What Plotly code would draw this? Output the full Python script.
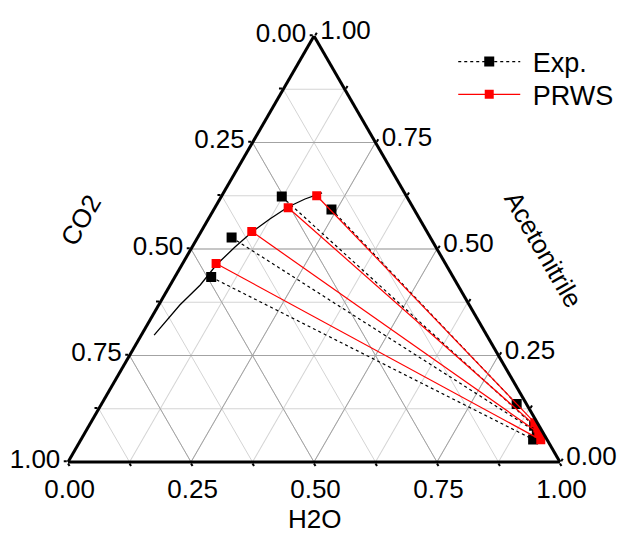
import plotly.graph_objects as go

# Ternary components: a = Acetonitrile (top), b = CO2 (bottom-left), c = H2O (bottom-right)
# Experimental tie-lines: CO2-rich phase (left) and water-rich phase (right)
exp_left_acn = [0.623, 0.593, 0.527, 0.434]
exp_left_co2 = [0.254, 0.168, 0.404, 0.492]
exp_right_acn = [0.085, 0.136, 0.070, 0.053]
exp_right_co2 = [0.010, 0.020, 0.012, 0.028]

# PRWS model tie-lines
prws_left_acn = [0.625, 0.597, 0.541, 0.466]
prws_left_co2 = [0.182, 0.254, 0.356, 0.466]
prws_right_acn = [0.092, 0.080, 0.068, 0.052]
prws_right_co2 = [0.005, 0.005, 0.009, 0.013]

# Binodal curve (CO2-rich side)
curve_acn = [0.298, 0.3685, 0.4155, 0.4624, 0.5047, 0.540, 0.5704, 0.5986, 0.6174, 0.6315]
curve_h2o = [0.026, 0.043, 0.061, 0.070, 0.087, 0.104, 0.125, 0.148, 0.173, 0.2006]

tick_vals = [0, 0.125, 0.25, 0.375, 0.5, 0.625, 0.75, 0.875, 1.0]
major_vals = [0, 0.25, 0.5, 0.75, 1.0]


def tie_arrays(la, lb, ra, rb):
    A, B, C = [], [], []
    for a1, b1, a2, b2 in zip(la, lb, ra, rb):
        A += [a1, a2, None]
        B += [b1, b2, None]
        C += [1 - a1 - b1, 1 - a2 - b2, None]
    return A, B, C


def tick_text(vals):
    # label each edge with the complementary component (Origin-style orientation)
    return [f"{1 - v:.2f}" if v in major_vals else "" for v in vals]


def major_grid(vals):
    A, B, C = [], [], []
    for v in vals:
        if v in (0, 1.0):
            continue
        # constant a, constant b, constant c
        A += [v, v, None, 0, 1 - v, None, 1 - v, 0, None]
        B += [1 - v, 0, None, v, v, None, 0, 1 - v, None]
        C += [0, 1 - v, None, 1 - v, 0, None, v, v, None]
    return A, B, C


fig = go.Figure()

ga, gb, gc = major_grid(major_vals)
fig.add_trace(go.Scatterternary(
    a=ga, b=gb, c=gc, mode="lines", line=dict(color="#a3a3a3", width=1),
    showlegend=False, hoverinfo="skip"))

ea, eb, ec = tie_arrays(exp_left_acn, exp_left_co2, exp_right_acn, exp_right_co2)
pa, pb, pc = tie_arrays(prws_left_acn, prws_left_co2, prws_right_acn, prws_right_co2)

fig.add_trace(go.Scatterternary(
    a=curve_acn, c=curve_h2o, b=[1 - x - y for x, y in zip(curve_acn, curve_h2o)],
    mode="lines", line=dict(color="black", width=1.3), showlegend=False, hoverinfo="skip"))

fig.add_trace(go.Scatterternary(
    a=ea, b=eb, c=ec, mode="lines+markers", name="\u00a0Exp.", legend="legend",
    line=dict(color="black", width=1.2, dash="dot"),
    marker=dict(symbol="square", size=10, color="black")))

fig.add_trace(go.Scatterternary(
    a=pa, b=pb, c=pc, mode="lines+markers", name="\u00a0PRWS", legend="legend2",
    line=dict(color="red", width=1.2),
    marker=dict(symbol="square", size=9, color="red")))

axis_common = dict(
    title=dict(text=""), tickmode="array", tickvals=tick_vals,
    linecolor="black", linewidth=3, showline=True,
    gridcolor="#d4d4d4", gridwidth=1, showgrid=True,
    ticks="outside", ticklen=3, tickwidth=2, tickcolor="black",
    tickfont=dict(size=26, color="black"),
)

legend_common = dict(xanchor="left", yanchor="middle", font=dict(size=27),
                     bgcolor="rgba(0,0,0,0)", itemwidth=62)

fig.update_layout(
    width=631, height=541,
    margin=dict(l=68, r=71, t=36, b=79),
    paper_bgcolor="white",
    font=dict(family="Liberation Sans, Arial, sans-serif", color="black"),
    ternary=dict(
        sum=1, bgcolor="white",
        domain=dict(x=[0, 1], y=[0, 1]),
        aaxis=dict(ticktext=tick_text(tick_vals), **axis_common),
        baxis=dict(ticktext=tick_text(tick_vals), **axis_common),
        caxis=dict(ticktext=tick_text(tick_vals), **axis_common),
    ),
    legend=dict(x=0.783, y=0.939, **legend_common),
    legend2=dict(x=0.783, y=0.862, **legend_common),
    annotations=[
        dict(text="CO2", x=0.026, y=0.568, xref="paper", yref="paper",
             xanchor="center", yanchor="middle",
             showarrow=False, textangle=-60, font=dict(size=26)),
        dict(text="Acetonitrile", x=0.967, y=0.498, xref="paper", yref="paper",
             xanchor="center", yanchor="middle",
             showarrow=False, textangle=60, font=dict(size=26)),
        dict(text="H2O", x=0.5, y=-0.134, xref="paper", yref="paper",
             xanchor="center", yanchor="middle",
             showarrow=False, font=dict(size=26)),
    ],
)

fig.write_html("out.html", config={"displayModeBar": False},
               post_script="document.body.style.margin='0';")
